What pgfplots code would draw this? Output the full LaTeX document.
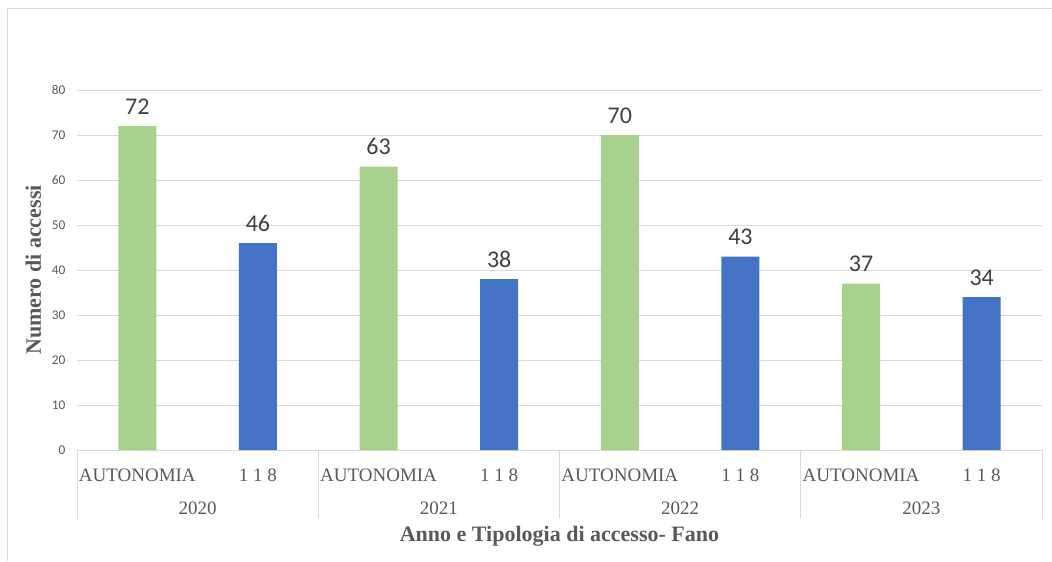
\documentclass[border=0pt]{standalone}
\usepackage{pgfplots}
\pgfplotsset{compat=1.18}
\usepackage{fontspec}
\setmainfont{Liberation Serif}
\newfontfamily\calfont{Carlito}
\definecolor{gridc}{HTML}{D9D9D9}
\definecolor{gbar}{HTML}{A9D18E}
\definecolor{bbar}{HTML}{4472C4}
\definecolor{tcol}{HTML}{595959}
\definecolor{dcol}{HTML}{404040}
\begin{document}
\begin{tikzpicture}
\useasboundingbox (0pt,0pt) rectangle (789pt,420.75pt);
\draw[gridc, line width=0.75pt] (5.25pt,0pt) -- (5.25pt,414pt) -- (789pt,414pt);
\begin{axis}[
  at={(57.75pt,83.25pt)}, anchor=south west,
  scale only axis, width=723.75pt, height=270pt,
  xmin=-0.5, xmax=7.5, ymin=0, ymax=80,
  ytick={0,10,...,80},
  xtick={0,...,7},
  xticklabels={AUTONOMIA,1 1 8,AUTONOMIA,1 1 8,AUTONOMIA,1 1 8,AUTONOMIA,1 1 8},
  axis lines=left, axis line style={-},
  y axis line style={draw=none},
  x axis line style={draw=gridc, line width=0.75pt},
  xtick style={draw=none}, ytick style={draw=none},
  ymajorgrids, grid style={gridc, line width=0.75pt},
  yticklabel style={font=\calfont\fontsize{10}{11}\selectfont, color=tcol, xshift=-3pt},
  /pgf/number format/assume math mode=true,
  xticklabel style={font=\fontsize{14.25}{16}\selectfont, color=tcol, anchor=base, yshift=-19pt},
  ybar, bar width=28.5pt, bar shift=0pt,
  nodes near coords,
  every node near coord/.append style={font=\calfont\fontsize{18}{20}\selectfont, color=dcol, anchor=base, inner sep=0pt, yshift=9pt},
  clip=false,
]
\addplot[fill=gbar, draw=none] coordinates {(0,72) (2,63) (4,70) (6,37)};
\addplot[fill=bbar, draw=none] coordinates {(1,46) (3,38) (5,43) (7,34)};
\foreach \s in {-0.5,1.5,3.5,5.5,7.5}{
  \edef\tmp{\noexpand\draw[gridc, line width=0.75pt] (axis cs:\s,0) -- ([yshift=-51pt]axis cs:\s,0);}\tmp
}
\foreach \c/\y in {0.5/2020,2.5/2021,4.5/2022,6.5/2023}{
  \edef\tmp{\noexpand\node[font=\noexpand\fontsize{14.25}{16}\noexpand\selectfont, text=tcol, anchor=base, inner sep=0pt] at ([yshift=-48.4pt]axis cs:\c,0) {\y};}\tmp
}
\end{axis}
\node[font=\bfseries\fontsize{16.5}{19}\selectfont, text=tcol, anchor=base, inner sep=0pt] at (419.6pt,15pt) {Anno e Tipologia di accesso- Fano};
\node[font=\bfseries\fontsize{16.5}{19}\selectfont, text=tcol, anchor=base, inner sep=0pt, rotate=90] at (30.75pt,218.25pt) {Numero di accessi};
\end{tikzpicture}
\end{document}
